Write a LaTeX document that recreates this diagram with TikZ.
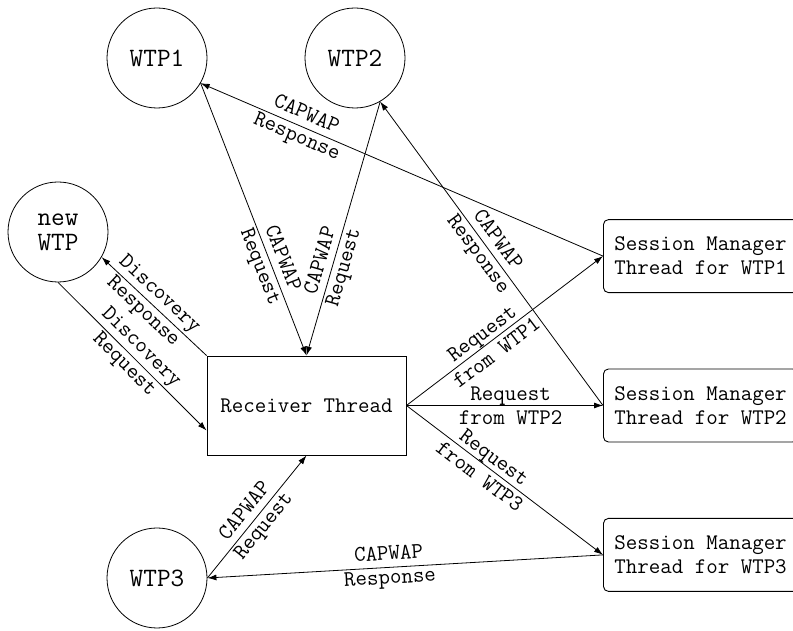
\documentclass[tikz,border=0pt]{standalone}
\usepackage{fontspec}
\usetikzlibrary{arrows.meta,positioning,calc}
\tikzset{
  msg/.style={-{Latex[length=9pt,width=6pt]}, line width=.8pt},
  wtp/.style={draw, circle, line width=.8pt, minimum size=100pt, inner sep=0pt, align=center,
              font=\ttfamily\fontsize{26.5}{25}\selectfont},
  thread/.style={draw, line width=.9pt, minimum width=199pt, minimum height=99pt,
                 font=\ttfamily\fontsize{22.3}{24}\selectfont},
  session/.style={draw, rounded corners=5pt, line width=.9pt, align=left, minimum height=73pt,
                  inner xsep=11pt, font=\ttfamily\fontsize{22.3}{24}\selectfont},
  lbl/.style={sloped, align=center, inner sep=0pt, font=\ttfamily\fontsize{22.3}{24}\selectfont}
}
\begin{document}
\begin{tikzpicture}[x=1pt, y=1pt]
  \useasboundingbox (0,0) rectangle (793,631);
  \clip (0,0) rectangle (793,631);
  \node[wtp] (wtp1) at (157,573) {WTP1};
  \node[wtp] (wtp2) at (355,573) {WTP2};
  \node[wtp] (newwtp) at (58,399) {new\\WTP};
  \node[wtp] (wtp3) at (157,53) {WTP3};
  \node[thread] (recv) at (306.5,225.5) {Receiver Thread};
  \node[session, anchor=west] (sm2) at (603,225.5) {Session Manager\\Thread for WTP2};
  \node[session, above=75.5pt of sm2] (sm1) {Session Manager\\Thread for WTP1};
  \node[session, below=75.5pt of sm2] (sm3) {Session Manager\\Thread for WTP3};
  \coordinate (recvin) at ($(recv.west)!.5!(recv.south west)$);
  \draw[msg] (wtp1.-30) -- node[lbl, pos=.66] {CAPWAP\\Request} (recv.north);
  \draw[msg] (wtp2.-60) -- node[lbl, pos=.64] {CAPWAP\\Request} (recv.north);
  \draw[msg] (sm1.west) -- node[lbl, pos=.75] {CAPWAP\\Response} (wtp1.-30);
  \draw[msg] (sm2.west) -- node[lbl, pos=.52] {CAPWAP\\Response} (wtp2.-60);
  \draw[msg] (recv.east) -- node[lbl, pos=.42] {Request\\from WTP1} (sm1.west);
  \draw[msg] (recv.east) -- node[lbl, pos=.53] {Request\\from WTP2} (sm2.west);
  \draw[msg] (recv.east) -- node[lbl, pos=.41] {Request\\from WTP3} (sm3.west);
  \draw[msg] (sm3.west) -- node[lbl, pos=.54] {CAPWAP\\Response} (wtp3.east);
  \draw[msg] (wtp3.east) -- node[lbl, pos=.48] {CAPWAP\\Request} (recv.south);
  \draw[msg] (recv.north west) -- node[lbl, pos=.53] {Discovery\\Response} (newwtp.-30);
  \draw[msg] (newwtp.south) -- node[lbl, pos=.5] {Discovery\\Request} (recvin);
\end{tikzpicture}
\end{document}
